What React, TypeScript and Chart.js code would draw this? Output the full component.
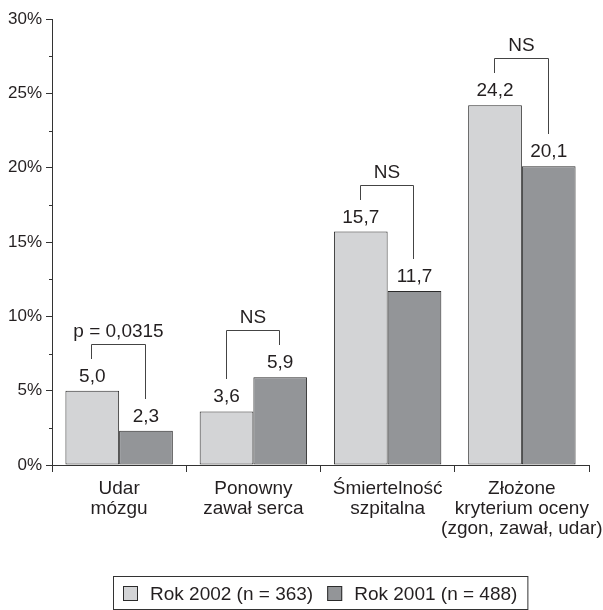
import { useEffect, useRef } from 'react';
import { Chart, registerables } from 'chart.js';

Chart.register(...registerables);

// ---- data ----
const categories: string[][] = [
  ['Udar', 'mózgu'],
  ['Ponowny', 'zawał serca'],
  ['Śmiertelność', 'szpitalna'],
  ['Złożone', 'kryterium oceny', '(zgon, zawał, udar)'],
];
const seriesNames = ['Rok 2002 (n = 363)', 'Rok 2001 (n = 488)'];
const values2002 = [5.0, 3.6, 15.7, 24.2];
const values2001 = [2.3, 5.9, 11.7, 20.1];
const comparisons = ['p = 0,0315', 'NS', 'NS', 'NS'];
const yTickValues = [0, 5, 10, 15, 20, 25, 30];

// ---- styles ----
const FONT = '"Liberation Sans", Arial, Helvetica, sans-serif';
const TEXT = '#231f20';
const AXIS = '#333333';
const LIGHT = '#d3d4d6';
const DARK = '#939598';
const BORDER = '#2b2b2b';

const fmt = (v: number) => v.toFixed(1).replace('.', ',');

const minorTicks = yTickValues.slice(0, -1).map((v, i) => (v + yTickValues[i + 1]) / 2);

const annotationPlugin = {
  id: 'annotations',
  afterDatasetsDraw(chart: any) {
    const ctx = chart.ctx as CanvasRenderingContext2D;
    const m0 = chart.getDatasetMeta(0);
    const m1 = chart.getDatasetMeta(1);
    ctx.save();
    ctx.font = `19px ${FONT}`;
    ctx.fillStyle = TEXT;
    ctx.textAlign = 'center';
    ctx.textBaseline = 'alphabetic';
    ctx.strokeStyle = '#444';
    ctx.lineWidth = 1;
    categories.forEach((_, i) => {
      const b0 = m0.data[i];
      const b1 = m1.data[i];
      const base0 = b0.y - 9;
      const base1 = b1.y - 9;
      ctx.fillText(fmt(values2002[i]), b0.x, base0);
      ctx.fillText(fmt(values2001[i]), b1.x, base1);
      const top0 = base0 - 14;
      const top1 = base1 - 14;
      const bt = Math.round(Math.min(top0, top1) - 24) + 0.5;
      const xl = Math.round(b0.x - 1) + 0.5;
      const xr = Math.round(b1.x - 1) + 0.5;
      ctx.beginPath();
      ctx.moveTo(xl, Math.round(top0 - 9));
      ctx.lineTo(xl, bt);
      ctx.lineTo(xr, bt);
      ctx.lineTo(xr, Math.round(top1 - 9));
      ctx.stroke();
      ctx.fillText(comparisons[i], (xl + xr) / 2, bt - 8);
    });
    ctx.restore();
  },
};

const axisExtrasPlugin = {
  id: 'axisExtras',
  afterDraw(chart: any) {
    const ctx = chart.ctx as CanvasRenderingContext2D;
    const y = chart.scales.y;
    const left = chart.chartArea.left;
    ctx.save();
    ctx.strokeStyle = AXIS;
    ctx.lineWidth = 1;
    minorTicks.forEach((v) => {
      const py = Math.round(y.getPixelForValue(v)) + 0.5;
      ctx.beginPath();
      ctx.moveTo(left - 3, py);
      ctx.lineTo(left, py);
      ctx.stroke();
    });

    // legend with frame
    const colors = [LIGHT, DARK];
    ctx.font = `19px ${FONT}`;
    const box = 15;
    const gapText = 12;
    const gapItem = 14;
    const pad = 10;
    const widths = seriesNames.map((s) => ctx.measureText(s).width);
    const total =
      pad * 2 + widths.reduce((a, w) => a + box + gapText + w, 0) + gapItem * (seriesNames.length - 1);
    const cx = (chart.chartArea.left + chart.chartArea.right) / 2;
    let x = Math.round(cx - total / 2);
    const top = chart.height - 34;
    const h = 33;
    ctx.strokeStyle = '#333';
    ctx.strokeRect(x + 0.5, top + 0.5, total, h);
    const mid = top + h / 2 + 1;
    x += pad;
    ctx.textAlign = 'left';
    ctx.textBaseline = 'middle';
    seriesNames.forEach((s, i) => {
      ctx.fillStyle = colors[i];
      ctx.fillRect(x, Math.round(mid - box / 2), box, box);
      ctx.strokeStyle = BORDER;
      ctx.strokeRect(x + 0.5, Math.round(mid - box / 2) + 0.5, box - 1, box - 1);
      ctx.fillStyle = TEXT;
      ctx.fillText(s, x + box + gapText, mid + 1);
      x += box + gapText + widths[i] + gapItem;
    });
    ctx.restore();
  },
};

export default function App() {
  const canvasRef = useRef<HTMLCanvasElement | null>(null);

  useEffect(() => {
    if (!canvasRef.current) return;
    const chart = new Chart(canvasRef.current, {
      type: 'bar',
      data: {
        labels: categories,
        datasets: [
          {
            label: seriesNames[0],
            data: values2002,
            backgroundColor: LIGHT,
            borderColor: BORDER,
            borderWidth: 1,
            borderSkipped: false,
            categoryPercentage: 0.8,
            barPercentage: 1.0,
          },
          {
            label: seriesNames[1],
            data: values2001,
            backgroundColor: DARK,
            borderColor: BORDER,
            borderWidth: 1,
            borderSkipped: false,
            categoryPercentage: 0.8,
            barPercentage: 1.0,
          },
        ],
      },
      options: {
        responsive: false,
        animation: false,
        devicePixelRatio: 1,
        layout: { padding: { top: 19, right: 14, left: 0, bottom: 0 } },
        plugins: {
          legend: { display: false },
          tooltip: { enabled: false },
        },
        scales: {
          x: {
            type: 'category',
            offset: true,
            grid: {
              display: true,
              drawOnChartArea: false,
              drawTicks: true,
              tickLength: 7,
              color: AXIS,
              offset: true,
            },
            border: { display: true, color: AXIS, width: 1 },
            ticks: {
              font: { family: FONT, size: 19, lineHeight: 1.05 },
              color: TEXT,
              padding: 7,
              maxRotation: 0,
              autoSkip: false,
            },
            afterFit(scale: any) {
              scale.height = 145;
              scale.paddingLeft = 0;
              scale.paddingRight = 0;
            },
          },
          y: {
            min: 0,
            max: 30,
            afterBuildTicks(scale: any) {
              scale.ticks = yTickValues.map((v) => ({ value: v }));
            },
            grid: {
              display: true,
              drawOnChartArea: false,
              drawTicks: true,
              tickLength: 6,
              color: AXIS,
            },
            border: { display: true, color: AXIS, width: 1 },
            ticks: {
              font: { family: FONT, size: 17 },
              color: TEXT,
              padding: 4,
              callback: (v: any) => `${v}%`,
            },
            afterFit(scale: any) {
              scale.width = 52;
              scale.paddingTop = 0;
              scale.paddingBottom = 0;
            },
          },
        },
      },
      plugins: [annotationPlugin, axisExtrasPlugin],
    } as any);
    return () => chart.destroy();
  }, []);

  return (
    <div style={{ position: 'fixed', left: 0, top: 0, width: 603, height: 610, background: '#fff' }}>
      <canvas ref={canvasRef} width={603} height={610} style={{ display: 'block' }} />
    </div>
  );
}
